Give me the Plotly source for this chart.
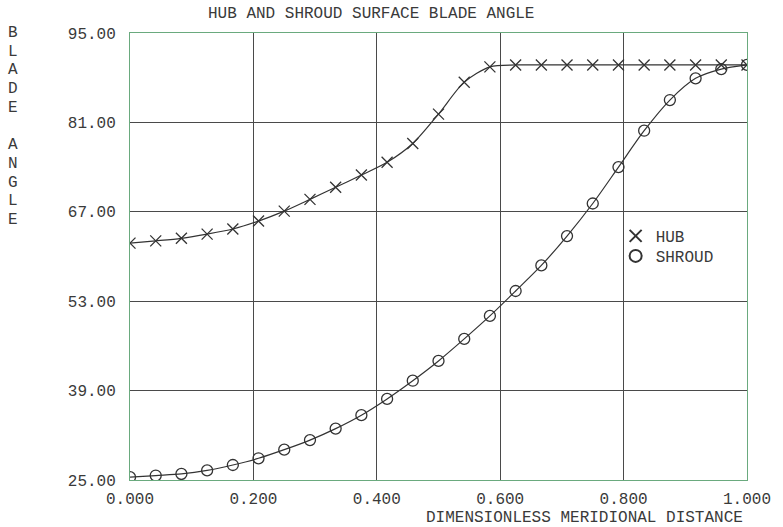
import plotly.graph_objects as go

# ---- data ----
distance = [0.0, 0.0417, 0.0833, 0.125, 0.1667, 0.2083, 0.25, 0.2917, 0.3333,
            0.375, 0.4167, 0.4583, 0.5, 0.5417, 0.5833, 0.625, 0.6667, 0.7083,
            0.75, 0.7917, 0.8333, 0.875, 0.9167, 0.9583, 1.0]
hub = [62.1, 62.45, 62.85, 63.5, 64.3, 65.55, 67.1, 68.95, 70.85, 72.75, 74.75,
       77.7, 82.3, 87.3, 89.7, 90.0, 90.0, 90.0, 90.0, 90.0, 90.0, 90.0, 90.0,
       90.0, 90.0]
shroud = [25.45, 25.7, 25.95, 26.5, 27.35, 28.4, 29.75, 31.25, 33.05, 35.15,
          37.7, 40.55, 43.65, 47.1, 50.7, 54.6, 58.6, 63.2, 68.3, 74.0, 79.7,
          84.5, 87.9, 89.35, 90.0]
x_ticks = [0.0, 0.2, 0.4, 0.6, 0.8, 1.0]
y_ticks = [25.0, 39.0, 53.0, 67.0, 81.0, 95.0]
series_names = ["HUB", "SHROUD"]
title_text = "HUB AND SHROUD SURFACE BLADE ANGLE"
x_title = "DIMENSIONLESS MERIDIONAL DISTANCE"
y_title_letters = ["B", "L", "A", "D", "E", "", "A", "N", "G", "L", "E"]

FONT = "Courier New, Liberation Mono, monospace"
TXT = "#3a3a3a"
LINE = "#333333"
GRID = "#4a4a4a"
BORDER = "#6aaa7e"

W, H = 783, 527
ML, MR, MT, MB = 130, 33, 33, 47
plot_w = W - ML - MR
plot_h = H - MT - MB

fig = go.Figure()

# curves with markers (no legend)
fig.add_trace(go.Scatter(
    x=distance, y=hub, mode="lines+markers", showlegend=False,
    line=dict(color=LINE, width=1.2, shape="spline", smoothing=0.8),
    marker=dict(symbol="x-thin", size=11, line=dict(color=LINE, width=1.3)),
))
fig.add_trace(go.Scatter(
    x=distance, y=shroud, mode="lines+markers", showlegend=False,
    line=dict(color=LINE, width=1.2, shape="spline", smoothing=0.8),
    marker=dict(symbol="circle-open", size=11, color=LINE,
                line=dict(color=LINE, width=1.3)),
))
# legend entries: markers only, one legend box each for exact spacing
fig.add_trace(go.Scatter(
    x=[None], y=[None], mode="markers", name=series_names[0], legend="legend",
    marker=dict(symbol="x-thin", size=12, line=dict(color=LINE, width=1.3)),
))
fig.add_trace(go.Scatter(
    x=[None], y=[None], mode="markers", name=series_names[1], legend="legend2",
    marker=dict(symbol="circle-open", size=12, color=LINE,
                line=dict(color=LINE, width=1.3)),
))

annotations = [
    dict(text=title_text, xref="paper", yref="paper",
         x=(372 - ML) / plot_w, y=(H - MB - 14) / plot_h,
         xanchor="center", yanchor="middle", showarrow=False,
         font=dict(family=FONT, size=16, color=TXT)),
    dict(text=x_title, xref="paper", yref="paper",
         x=(748 - ML) / plot_w, y=(H - MB - 518) / plot_h,
         xanchor="right", yanchor="middle", showarrow=False,
         font=dict(family=FONT, size=16, color=TXT)),
]
for i, ch in enumerate(y_title_letters):
    if not ch:
        continue
    ypx = 33 + i * 18.7
    annotations.append(dict(
        text=ch, xref="paper", yref="paper",
        x=(12 - ML) / plot_w, y=(H - MB - ypx) / plot_h,
        xanchor="center", yanchor="middle", showarrow=False,
        font=dict(family=FONT, size=16, color=TXT)))

legend_style = dict(xanchor="left", yanchor="top",
                    bgcolor="rgba(0,0,0,0)", borderwidth=0,
                    font=dict(family=FONT, size=16, color=TXT),
                    itemsizing="constant")

fig.update_layout(
    width=W, height=H,
    margin=dict(l=ML, r=MR, t=MT, b=MB, pad=0),
    paper_bgcolor="white", plot_bgcolor="white",
    font=dict(family=FONT, size=16, color=TXT),
    showlegend=True,
    legend=dict(x=(618 - ML) / plot_w, y=(H - MB - 219) / plot_h, **legend_style),
    legend2=dict(x=(618 - ML) / plot_w, y=(H - MB - 239) / plot_h, **legend_style),
    annotations=annotations,
)
fig.update_xaxes(
    range=[0, 1], tickvals=x_ticks, tickformat=".3f",
    showgrid=True, gridcolor=GRID, gridwidth=1,
    zeroline=False, showline=True, linecolor=BORDER, linewidth=1, mirror=True,
    ticks="", ticklabelstandoff=4,
    tickfont=dict(family=FONT, size=16, color=TXT),
)
fig.update_yaxes(
    range=[25, 95], tickvals=y_ticks, tickformat=".2f",
    showgrid=True, gridcolor=GRID, gridwidth=1,
    zeroline=False, showline=True, linecolor=BORDER, linewidth=1, mirror=True,
    ticks="", ticklabelstandoff=10,
    tickfont=dict(family=FONT, size=16, color=TXT),
)

fig.write_html("out.html")
